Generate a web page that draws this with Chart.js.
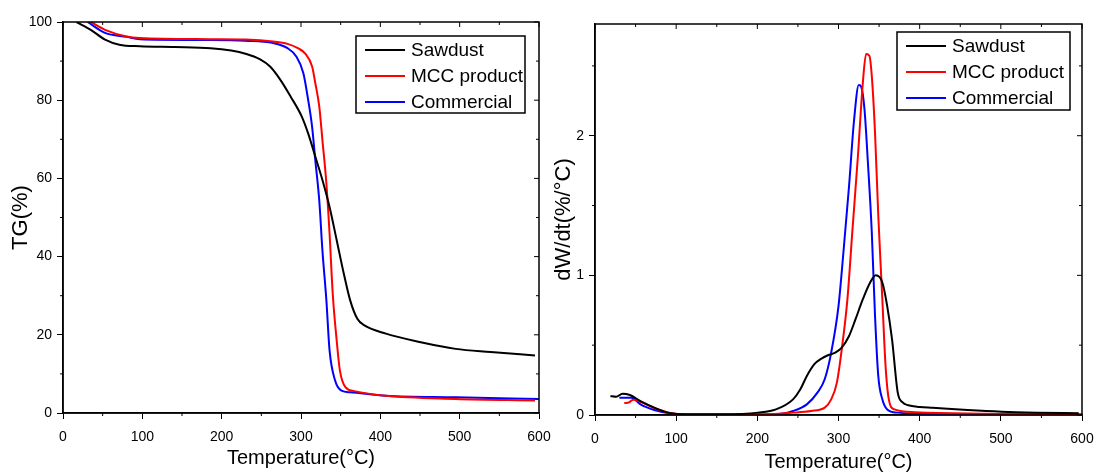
<!DOCTYPE html>
<html>
<head>
<meta charset="utf-8">
<script src="https://cdn.jsdelivr.net/npm/chart.js@4.4.0/dist/chart.umd.min.js"></script>
<style>
  body { margin: 0; background: #fff; width: 1096px; height: 472px; overflow: hidden; position: relative; }
  canvas { position: absolute; top: 0; }
  #tg { left: 0; }
  #dtg { left: 552px; }
</style>
</head>
<body>
<canvas id="tg" width="552" height="472"></canvas>
<canvas id="dtg" width="544" height="472"></canvas>
<script>
// TG curves (temperature, %)
var tgSawdustT = [17, 35, 53, 71, 97, 141, 186, 212, 230, 248, 261, 274, 287, 301, 309, 318, 327, 336, 345, 354, 362, 371, 380, 407, 451, 495, 539, 595];
var tgSawdustY = [100, 98, 95.5, 94.2, 93.8, 93.6, 93.3, 92.7, 91.9, 90.5, 88.6, 85.2, 80.9, 75.8, 71.5, 65.6, 59.6, 52.7, 44.2, 35.6, 28.8, 24.1, 22.4, 20.3, 18.1, 16.4, 15.6, 14.7];
var tgMccT = [35, 53, 80, 97, 186, 230, 265, 283, 296, 305, 314, 318, 323, 327, 332, 336, 340, 345, 349, 356, 367, 407, 495, 595];
var tgMccY = [100, 98, 96.3, 95.9, 95.6, 95.5, 95, 94.4, 93.3, 92, 88.6, 84.4, 78.4, 69.8, 58.7, 45.9, 30.5, 18.5, 10.9, 6.6, 5.6, 4.4, 3.6, 3.2];
var tgComT = [31, 53, 80, 97, 186, 230, 265, 283, 294, 303, 309, 314, 318, 323, 327, 332, 336, 343, 351, 362, 407, 495, 600];
var tgComY = [100, 97.2, 96.2, 95.6, 95.4, 95.2, 94.6, 93.3, 91.2, 86.9, 80.1, 73.2, 64.7, 54.4, 41.6, 28.8, 16, 8.3, 5.7, 5.3, 4.4, 4.0, 3.6];

// DTG curves (temperature, %/°C)
var dtgSawdustT = [19, 26, 34, 43, 56, 73, 90, 116, 159, 201, 223, 244, 253, 261, 270, 279, 287, 296, 304, 313, 321, 330, 339, 346, 354, 360, 366, 373, 379, 386, 400, 416, 459, 501, 544, 596];
var dtgSawdustY = [0.136, 0.13, 0.153, 0.143, 0.10, 0.053, 0.017, 0.005, 0.005, 0.017, 0.04, 0.112, 0.184, 0.28, 0.363, 0.404, 0.428, 0.447, 0.483, 0.566, 0.686, 0.829, 0.949, 1.0, 0.949, 0.78, 0.54, 0.16, 0.09, 0.07, 0.058, 0.052, 0.036, 0.024, 0.017, 0.012];
var dtgMccT = [36, 42, 47, 56, 73, 94, 116, 200, 244, 266, 283, 291, 298, 304, 311, 317, 324, 330, 334, 338, 341, 345, 349, 354, 358, 362, 369, 394, 459, 600];
var dtgMccY = [0.085, 0.09, 0.11, 0.095, 0.05, 0.012, 0.003, 0.003, 0.017, 0.029, 0.053, 0.112, 0.232, 0.47, 0.83, 1.31, 1.86, 2.38, 2.585, 2.573, 2.43, 2.02, 1.43, 0.83, 0.35, 0.112, 0.04, 0.02, 0.01, 0.005];
var dtgComT = [30, 45, 56, 73, 94, 116, 223, 244, 261, 274, 283, 291, 300, 306, 313, 319, 325, 328, 332, 336, 341, 345, 349, 354, 360, 373, 416, 600];
var dtgComY = [0.124, 0.124, 0.076, 0.036, 0.01, 0.002, 0.005, 0.029, 0.076, 0.16, 0.256, 0.447, 0.78, 1.16, 1.64, 2.1, 2.363, 2.35, 2.19, 1.83, 1.31, 0.71, 0.28, 0.112, 0.04, 0.017, 0.007, 0.002];

var seriesNames = ['Sawdust', 'MCC product', 'Commercial'];
var seriesColors = ['#000000', '#ff0000', '#0000ff'];

function pts(xs, ys) {
  return xs.map(function (x, i) { return { x: x, y: ys[i] }; });
}

function makeSet(i, xs, ys) {
  return {
    label: seriesNames[i],
    data: pts(xs, ys),
    borderColor: seriesColors[i],
    borderWidth: 2,
    pointRadius: 0,
    cubicInterpolationMode: 'monotone',
    fill: false
  };
}

Chart.defaults.font.family = "'Liberation Sans', Arial, sans-serif";
Chart.defaults.color = '#000';

// box around plot + minor ticks + mirrored ticks on top/right
var framePlugin = {
  id: 'frame',
  afterDraw: function (chart, args, o) {
    var ctx = chart.ctx, a = chart.chartArea;
    var xs = chart.scales.x, ys = chart.scales.y;
    ctx.save();
    ctx.strokeStyle = '#000';
    ctx.lineWidth = 1.5;
    ctx.strokeRect(a.left, a.top, a.right - a.left, a.bottom - a.top);
    ctx.lineWidth = 1;
    ctx.beginPath();
    var v, p, major;
    for (v = xs.min; v <= xs.max + 1e-9; v += o.xMinor) {
      p = xs.getPixelForValue(v);
      major = Math.abs(v / o.xMajor - Math.round(v / o.xMajor)) < 1e-6;
      if (!major) { ctx.moveTo(p, a.bottom); ctx.lineTo(p, a.bottom + 3); }
      ctx.moveTo(p, a.top); ctx.lineTo(p, a.top + (major ? 5 : 3));
    }
    for (v = ys.min; v <= ys.max + 1e-9; v += o.yMinor) {
      p = ys.getPixelForValue(v);
      major = Math.abs(v / o.yMajor - Math.round(v / o.yMajor)) < 1e-6;
      if (!major) { ctx.moveTo(a.left, p); ctx.lineTo(a.left - 3, p); }
      ctx.moveTo(a.right, p); ctx.lineTo(a.right - (major ? 5 : 3), p);
    }
    ctx.stroke();
    ctx.restore();
  }
};

// legend box drawn inside the plot
var boxLegend = {
  id: 'boxLegend',
  afterDraw: function (chart, args, o) {
    var ctx = chart.ctx, a = chart.chartArea;
    var left = a.right - o.right - o.width, top = a.top + o.top;
    ctx.save();
    ctx.fillStyle = '#fff';
    ctx.fillRect(left, top, o.width, o.height);
    ctx.strokeStyle = '#000';
    ctx.lineWidth = 1.5;
    ctx.strokeRect(left, top, o.width, o.height);
    ctx.font = o.fontSize + "px 'Liberation Sans', Arial, sans-serif";
    ctx.textBaseline = 'middle';
    chart.data.datasets.forEach(function (ds, i) {
      var y = top + 14 + i * 26;
      ctx.strokeStyle = ds.borderColor;
      ctx.lineWidth = 2;
      ctx.beginPath();
      ctx.moveTo(left + 9, y);
      ctx.lineTo(left + 49, y);
      ctx.stroke();
      ctx.fillStyle = '#000';
      ctx.fillText(ds.label, left + 55, y + 1);
    });
    ctx.restore();
  }
};

function axisX(h, titlePad) {
  return {
    type: 'linear', min: 0, max: 600,
    ticks: { stepSize: 100, padding: 10, font: { size: 14 } },
    grid: { drawOnChartArea: false, tickLength: 6, color: '#000' },
    border: { color: '#000', width: 1.5 },
    title: { display: true, text: 'Temperature(°C)', font: { size: 20, lineHeight: 1 }, padding: { top: 0, bottom: titlePad } },
    afterFit: function (s) {
      s.height = h;
      s.paddingLeft = 0;
      s.paddingRight = 0;
    }
  };
}

function axisY(w, max, step, label, size, titlePad) {
  return {
    type: 'linear', min: 0, max: max,
    ticks: { stepSize: step, padding: 5, includeBounds: false, font: { size: 14 } },
    grid: { drawOnChartArea: false, tickLength: 6, color: '#000' },
    border: { color: '#000', width: 1.5 },
    title: { display: true, text: label, font: { size: size, lineHeight: 1 }, padding: { top: titlePad, bottom: 0 } },
    afterFit: function (s) { s.width = w; }
  };
}

new Chart(document.getElementById('tg'), {
  type: 'line',
  data: {
    datasets: [
      makeSet(0, tgSawdustT, tgSawdustY),
      makeSet(1, tgMccT, tgMccY),
      makeSet(2, tgComT, tgComY)
    ]
  },
  options: {
    responsive: false,
    animation: false,
    layout: { padding: { top: 22, right: 13, left: 0, bottom: 0 } },
    scales: {
      x: axisX(59, 4),
      y: axisY(63, 100, 20, 'TG(%)', 22, 10)
    },
    plugins: {
      legend: { display: false },
      tooltip: { enabled: false },
      frame: { xMinor: 50, xMajor: 100, yMinor: 10, yMajor: 20 },
      boxLegend: { right: 14, top: 14, width: 169, height: 77, fontSize: 19 }
    }
  },
  plugins: [framePlugin, boxLegend]
});

new Chart(document.getElementById('dtg'), {
  type: 'line',
  data: {
    datasets: [
      makeSet(0, dtgSawdustT, dtgSawdustY),
      makeSet(1, dtgMccT, dtgMccY),
      makeSet(2, dtgComT, dtgComY)
    ]
  },
  options: {
    responsive: false,
    animation: false,
    layout: { padding: { top: 24, right: 14, left: 0, bottom: 0 } },
    scales: {
      x: axisX(57, 0),
      y: axisY(43, 2.8, 1, 'dW/dt(%/°C)', 22, 1)
    },
    plugins: {
      legend: { display: false },
      tooltip: { enabled: false },
      frame: { xMinor: 50, xMajor: 100, yMinor: 0.5, yMajor: 1 },
      boxLegend: { right: 12, top: 8, width: 173, height: 78, fontSize: 19 }
    }
  },
  plugins: [framePlugin, boxLegend]
});
</script>
</body>
</html>
